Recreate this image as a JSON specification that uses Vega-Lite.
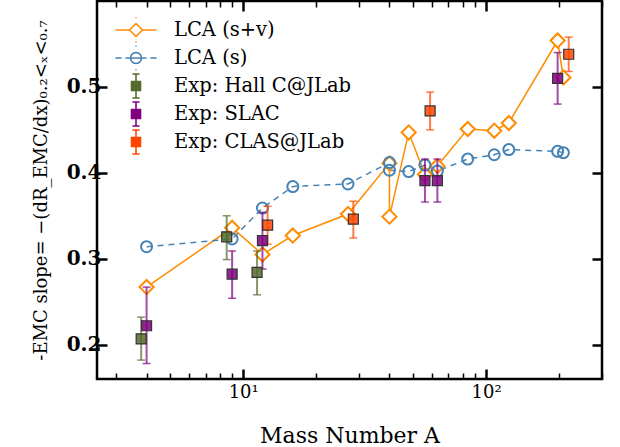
{
  "$schema": "https://vega.github.io/schema/vega-lite/v6.json",
  "width": 505,
  "height": 378,
  "autosize": {"type": "none"},
  "padding": {"left": 97, "top": 1, "right": 18, "bottom": 68},
  "background": "white",
  "config": {
    "view": {"stroke": "black", "strokeWidth": 2.5},
    "font": "DejaVu Serif",
    "axis": {"domain": false, "grid": false, "tickColor": "black", "labelColor": "black", "titleColor": "black", "titleFontWeight": "normal", "labelFont": "DejaVu Serif", "titleFont": "DejaVu Serif"}
  },
  "data": {
    "values": [
      {"s": "LCA (s+v)", "i": 1, "A": 4, "y": 0.267},
      {"s": "LCA (s+v)", "i": 2, "A": 9, "y": 0.336},
      {"s": "LCA (s+v)", "i": 3, "A": 12, "y": 0.305},
      {"s": "LCA (s+v)", "i": 4, "A": 16, "y": 0.327},
      {"s": "LCA (s+v)", "i": 5, "A": 27, "y": 0.352},
      {"s": "LCA (s+v)", "i": 6, "A": 40, "y": 0.411},
      {"s": "LCA (s+v)", "i": 7, "A": 40, "y": 0.349},
      {"s": "LCA (s+v)", "i": 8, "A": 48, "y": 0.447},
      {"s": "LCA (s+v)", "i": 9, "A": 56, "y": 0.398},
      {"s": "LCA (s+v)", "i": 10, "A": 63, "y": 0.408},
      {"s": "LCA (s+v)", "i": 11, "A": 84, "y": 0.451},
      {"s": "LCA (s+v)", "i": 12, "A": 108, "y": 0.449},
      {"s": "LCA (s+v)", "i": 13, "A": 124, "y": 0.458},
      {"s": "LCA (s+v)", "i": 14, "A": 197, "y": 0.554},
      {"s": "LCA (s+v)", "i": 15, "A": 208, "y": 0.511},
      {"s": "LCA (s)", "i": 1, "A": 4, "y": 0.314},
      {"s": "LCA (s)", "i": 2, "A": 9, "y": 0.323},
      {"s": "LCA (s)", "i": 3, "A": 12, "y": 0.359},
      {"s": "LCA (s)", "i": 4, "A": 16, "y": 0.384},
      {"s": "LCA (s)", "i": 5, "A": 27, "y": 0.387},
      {"s": "LCA (s)", "i": 6, "A": 40, "y": 0.412},
      {"s": "LCA (s)", "i": 7, "A": 40, "y": 0.403},
      {"s": "LCA (s)", "i": 8, "A": 48, "y": 0.4015},
      {"s": "LCA (s)", "i": 9, "A": 56, "y": 0.409},
      {"s": "LCA (s)", "i": 10, "A": 63, "y": 0.402},
      {"s": "LCA (s)", "i": 11, "A": 84, "y": 0.416},
      {"s": "LCA (s)", "i": 12, "A": 108, "y": 0.421},
      {"s": "LCA (s)", "i": 13, "A": 124, "y": 0.427},
      {"s": "LCA (s)", "i": 14, "A": 197, "y": 0.425},
      {"s": "LCA (s)", "i": 15, "A": 208, "y": 0.4235},
      {"s": "Exp: Hall C@JLab", "i": 1, "A": 3.8, "y": 0.2066, "lo": 0.182, "hi": 0.232},
      {"s": "Exp: Hall C@JLab", "i": 2, "A": 8.55, "y": 0.3255, "lo": 0.299, "hi": 0.350},
      {"s": "Exp: Hall C@JLab", "i": 3, "A": 11.4, "y": 0.284, "lo": 0.258, "hi": 0.309},
      {"s": "Exp: SLAC", "i": 1, "A": 4, "y": 0.222, "lo": 0.178, "hi": 0.267},
      {"s": "Exp: SLAC", "i": 2, "A": 9, "y": 0.282, "lo": 0.254, "hi": 0.309},
      {"s": "Exp: SLAC", "i": 3, "A": 12, "y": 0.321, "lo": 0.288, "hi": 0.354},
      {"s": "Exp: SLAC", "i": 4, "A": 56, "y": 0.391, "lo": 0.366, "hi": 0.416},
      {"s": "Exp: SLAC", "i": 5, "A": 63, "y": 0.391, "lo": 0.366, "hi": 0.416},
      {"s": "Exp: SLAC", "i": 6, "A": 197, "y": 0.510, "lo": 0.480, "hi": 0.540},
      {"s": "Exp: CLAS@JLab", "i": 1, "A": 12.6, "y": 0.339, "lo": 0.317, "hi": 0.361},
      {"s": "Exp: CLAS@JLab", "i": 2, "A": 28.4, "y": 0.346, "lo": 0.324, "hi": 0.367},
      {"s": "Exp: CLAS@JLab", "i": 3, "A": 58.8, "y": 0.472, "lo": 0.450, "hi": 0.494},
      {"s": "Exp: CLAS@JLab", "i": 4, "A": 218.8, "y": 0.538, "lo": 0.518, "hi": 0.558}
    ]
  },
  "resolve": {"axis": {"x": "independent", "y": "independent"}},
  "layer": [
    {
      "transform": [{"filter": "isValid(datum.lo)"}],
      "mark": {"type": "square", "size": 1, "filled": true, "opacity": 0},
      "encoding": {
        "x": {"field": "A", "type": "quantitative", "scale": {"type": "log", "domain": [2.5, 300], "nice": false},
          "axis": {"orient": "bottom", "values": [3,4,5,6,7,8,9,10,20,30,40,50,60,70,80,90,100,200,300],
            "labelExpr": "datum.value == 10 ? '10¹' : datum.value == 100 ? '10²' : ''",
            "tickSize": {"condition": {"test": "datum.value == 10 || datum.value == 100", "value": -10}, "value": -6},
            "tickWidth": {"condition": {"test": "datum.value == 10 || datum.value == 100", "value": 2.5}, "value": 1.5},
            "labelFontSize": 18, "labelPadding": 14, "labelFlush": false, "labelOverlap": false,
            "title": "Mass Number A", "titleFontSize": 22, "titlePadding": 20}},
        "y": {"field": "y", "type": "quantitative", "scale": {"domain": [0.16, 0.6], "nice": false, "zero": false},
          "axis": {"orient": "left", "values": [0.2, 0.3, 0.4, 0.5], "format": ".1f", "tickSize": -10, "tickWidth": 2.5,
            "labelFontSize": 20, "labelFontWeight": "bold", "labelPadding": 6,
            "title": "-EMC slope= −(dR_EMC/dx)₀.₂<ₓ<₀.₇", "titleFontSize": 18, "titlePadding": 16}},
        "color": {"field": "s", "type": "nominal",
          "scale": {"domain": ["LCA (s+v)", "LCA (s)", "Exp: Hall C@JLab", "Exp: SLAC", "Exp: CLAS@JLab"],
                    "range": ["#ff8c00", "#4682b4", "#556b2f", "#800080", "#ff4500"]},
          "legend": {"orient": "none", "legendX": 28, "legendY": 18, "title": null,
            "symbolSize": 400, "labelFontSize": 19.5, "labelOffset": 27, "rowPadding": -4, "labelColor": "black",
            "labelFont": "DejaVu Serif", "labelLimit": 300, "symbolStrokeWidth": 1.6, "symbolOpacity": 1,
            "encode": {"symbols": {"update": {
              "shape": {"signal": "datum.value == 'LCA (s+v)' ? 'M0,-1.2h0M0,1.2h0M-2,0H-0.65M-0.65,0L0,-0.65M0,-0.65L0.65,0M0.65,0L0,0.65M0,0.65L-0.65,0M0.65,0H2' : datum.value == 'LCA (s)' ? 'M0,-1.2h0M0,1.2h0M-2,0H-1.5M-1,0H1M1.5,0H2M0.55,0L0.508,0.21M0.508,0.21L0.389,0.389M0.389,0.389L0.21,0.508M0.21,0.508L0,0.55M0,0.55L-0.21,0.508M-0.21,0.508L-0.389,0.389M-0.389,0.389L-0.508,0.21M-0.508,0.21L-0.55,0M-0.55,0L-0.508,-0.21M-0.508,-0.21L-0.389,-0.389M-0.389,-0.389L-0.21,-0.508M-0.21,-0.508L0,-0.55M0,-0.55L0.21,-0.508M0.21,-0.508L0.389,-0.389M0.389,-0.389L0.508,-0.21M0.508,-0.21L0.55,0' : 'M0,-1.2V1.2M-0.3,-1.2H0.3M-0.3,1.2H0.3M-0.45,-0.45H0.45V0.45H-0.45Z'"},
              "fill": {"signal": "datum.value == 'LCA (s+v)' ? 'white' : datum.value == 'LCA (s)' ? 'transparent' : datum.value == 'Exp: Hall C@JLab' ? '#5a6e3a' : datum.value == 'Exp: SLAC' ? '#861a86' : '#ff4a10'"},
              "stroke": {"signal": "datum.value == 'LCA (s+v)' ? '#ff8c00' : datum.value == 'LCA (s)' ? '#4682b4' : datum.value == 'Exp: Hall C@JLab' ? '#7a8a5a' : datum.value == 'Exp: SLAC' ? '#a040a8' : '#ff6a40'"},
              "strokeWidth": {"value": 1.6},
              "strokeCap": {"value": "round"},
              "opacity": {"value": 1},
              "fillOpacity": {"value": 1},
              "strokeOpacity": {"value": 1}
            }}}}}
      }
    },
    {
      "transform": [{"filter": "datum.s == 'LCA (s+v)'"}],
      "mark": {"type": "line", "strokeWidth": 1.5},
      "encoding": {
        "x": {"field": "A", "type": "quantitative", "axis": null},
        "y": {"field": "y", "type": "quantitative", "axis": null},
        "order": {"field": "i", "type": "quantitative"},
        "color": {"field": "s", "type": "nominal", "legend": null}
      }
    },
    {
      "transform": [{"filter": "datum.s == 'LCA (s)'"}],
      "mark": {"type": "line", "strokeWidth": 1.5, "strokeDash": [6, 5]},
      "encoding": {
        "x": {"field": "A", "type": "quantitative",
          "axis": {"orient": "top", "values": [3,4,5,6,7,8,9,10,20,30,40,50,60,70,80,90,100,200,300], "labels": false, "title": null,
            "tickSize": {"condition": {"test": "datum.value == 10 || datum.value == 100", "value": -10}, "value": -6},
            "tickWidth": {"condition": {"test": "datum.value == 10 || datum.value == 100", "value": 2.5}, "value": 1.5}}},
        "y": {"field": "y", "type": "quantitative",
          "axis": {"orient": "right", "values": [0.2, 0.3, 0.4, 0.5], "labels": false, "title": null, "tickSize": -10, "tickWidth": 2.5}},
        "order": {"field": "i", "type": "quantitative"},
        "color": {"field": "s", "type": "nominal", "legend": null}
      }
    },
    {
      "transform": [{"filter": "datum.s == 'LCA (s+v)'"}],
      "mark": {"type": "point", "shape": "diamond", "size": 200, "filled": false, "fill": "white", "fillOpacity": 1, "strokeWidth": 2, "opacity": 1},
      "encoding": {
        "x": {"field": "A", "type": "quantitative", "axis": null},
        "y": {"field": "y", "type": "quantitative", "axis": null},
        "color": {"field": "s", "type": "nominal", "legend": null}
      }
    },
    {
      "transform": [{"filter": "datum.s == 'LCA (s)'"}],
      "mark": {"type": "point", "shape": "circle", "size": 121, "filled": false, "strokeWidth": 2, "opacity": 1},
      "encoding": {
        "x": {"field": "A", "type": "quantitative", "axis": null},
        "y": {"field": "y", "type": "quantitative", "axis": null},
        "color": {"field": "s", "type": "nominal", "legend": null}
      }
    },
    {
      "transform": [{"filter": "isValid(datum.lo)"}],
      "mark": {"type": "errorbar", "ticks": {"size": 8, "thickness": 1.5}, "thickness": 2, "opacity": 0.7},
      "encoding": {
        "x": {"field": "A", "type": "quantitative", "axis": null},
        "y": {"field": "lo", "type": "quantitative", "axis": null},
        "y2": {"field": "hi"},
        "color": {"field": "s", "type": "nominal", "legend": null}
      }
    },
    {
      "transform": [{"filter": "isValid(datum.lo)"}],
      "mark": {"type": "square", "size": 100, "filled": true, "stroke": "#333333", "strokeWidth": 1.2, "fillOpacity": 0.85, "opacity": 1},
      "encoding": {
        "x": {"field": "A", "type": "quantitative", "axis": null},
        "y": {"field": "y", "type": "quantitative", "axis": null},
        "color": {"field": "s", "type": "nominal", "legend": null}
      }
    }
  ]
}
